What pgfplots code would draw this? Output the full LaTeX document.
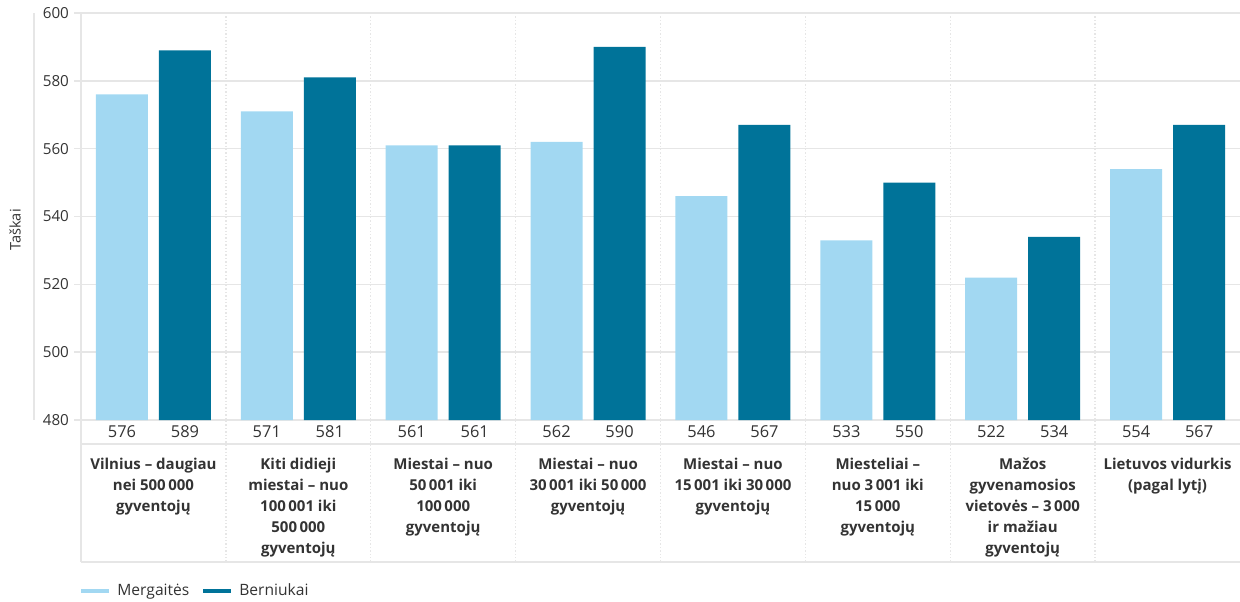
\documentclass[border=0pt]{standalone}
\usepackage{pgfplots}
\pgfplotsset{compat=1.18}
\usepackage{pgfplotstable}
\usepackage{fontspec}
\setmainfont{Open Sans}
\definecolor{lightb}{HTML}{A2D8F2}
\definecolor{darkb}{HTML}{007399}
\definecolor{txt}{HTML}{333333}
\definecolor{gridc}{HTML}{E6E6E6}
\pgfplotsset{flatlegend/.style={legend image code/.code={\fill[##1] (0pt,-0.85pt) rectangle (14pt,0.85pt);}}}
\pgfplotstableread{
x girls boys
0 576 589
1 571 581
2 561 561
3 562 590
4 546 567
5 533 550
6 522 534
7 554 567
}\data
\begin{document}
\begin{tikzpicture}
\path[use as bounding box] (-40.5pt,-90.5pt) rectangle (579.5pt,210pt);
\begin{axis}[
  width=579.5pt, height=203.5pt, scale only axis,
  xmin=-0.5, xmax=7.5, ymin=480, ymax=600,
  ytick={480,500,...,600},
  xtick={0,...,7},
  xticklabels={
    {Vilnius -- daugiau\\nei 500\,000\\gyventojų},
    {Kiti didieji\\miestai -- nuo\\100\,001 iki\\500\,000\\gyventojų},
    {Miestai -- nuo\\50\,001 iki\\100\,000\\gyventojų},
    {Miestai -- nuo\\30\,001 iki 50\,000\\gyventojų},
    {Miestai -- nuo\\15\,001 iki 30\,000\\gyventojų},
    {Miesteliai --\\nuo 3\,001 iki\\15\,000\\gyventojų},
    {Mažos\\gyvenamosios\\vietovės -- 3\,000\\ir mažiau\\gyventojų},
    {Lietuvos vidurkis\\(pagal lytį)}},
  xticklabel style={anchor=north, yshift=-12pt, align=center, font=\bfseries\fontsize{7.5}{10.5}\selectfont, text=txt},
  yticklabel style={font=\fontsize{7.6}{9}\selectfont, text=txt, xshift=1pt},
  /pgf/number format/assume math mode=true,
  axis line style={draw=none},
  xtick style={draw=none},
  ytick style={draw=gridc, line width=0.7pt},
  tick align=outside, major tick length=3.5pt,
  ymajorgrids, grid style={gridc, line width=0.7pt},
  ylabel=Taškai,
  every axis y label/.style={at={(rel axis cs:0,0.467)}, xshift=-33pt, rotate=90, anchor=center, font=\fontsize{7.3}{9}\selectfont, text=txt},
  clip=false,
  flatlegend,
  legend style={at={(rel axis cs:0,-0.42)}, anchor=west, legend columns=2, draw=none, fill=none,
    font=\fontsize{7.8}{9}\selectfont, text=txt, inner sep=0pt,
    /tikz/every odd column/.append style={column sep=2pt},
    /tikz/every even column/.append style={column sep=5pt}},
  legend cell align=left,
  visualization depends on={y \as \rawy},
  nodes near coords,
  every node near coord/.append style={anchor=center, yshift={-(\rawy-480)*1.695833pt - 5.85pt}, font=\fontsize{8.2}{9}\selectfont, text=txt},
]
\addplot[ybar, bar width=26pt, bar shift=-15.75pt, fill=lightb, draw=none,
  every node near coord/.append style={xshift=-15.75pt}] table[x=x, y=girls]{\data};
\addplot[ybar, bar width=26pt, bar shift=15.75pt, fill=darkb, draw=none,
  every node near coord/.append style={xshift=15.75pt}] table[x=x, y=boys]{\data};
\legend{Mergaitės, Berniukai}
\pgfplotsinvokeforeach{0.5,1.5,2.5,3.5,4.5,5.5,6.5}{
  \draw[gridc, densely dotted, line width=0.7pt] (axis cs:#1,600) -- (axis cs:#1,438.13);
}
\draw[gridc, line width=0.8pt] (axis cs:-0.5,600) -- (axis cs:-0.5,438.13);
\draw[gridc, line width=0.8pt] (axis cs:-0.5,472.92) -- (axis cs:7.5,472.92);
\draw[gridc, line width=0.8pt] (axis cs:-0.5,438.13) -- (axis cs:7.5,438.13);
\draw[gridc, line width=0.7pt] ([xshift=-23.5pt]rel axis cs:0,0) -- ([xshift=-23.5pt]rel axis cs:0,1);
\end{axis}
\end{tikzpicture}
\end{document}
